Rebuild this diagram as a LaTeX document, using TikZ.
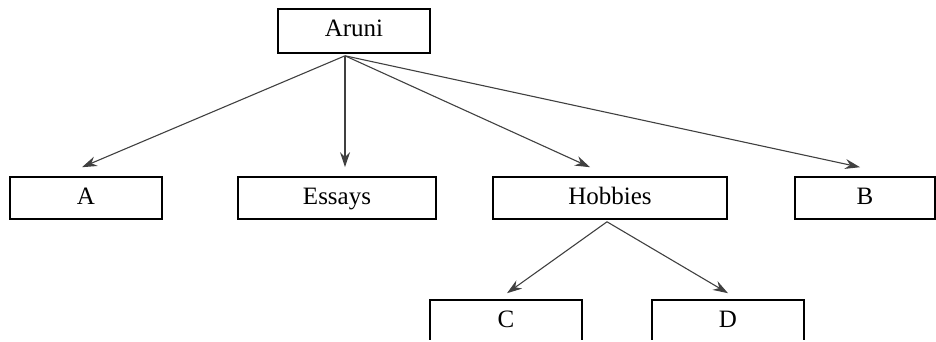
\documentclass[tikz,border=0pt]{standalone}
\usepackage{fontspec}
\setmainfont{Liberation Serif}
\usetikzlibrary{arrows.meta}

\begin{document}
\begin{tikzpicture}[x=1pt, y=-1pt,
    every node/.style={font=\fontsize{25}{25}\selectfont},
    topic/.style={draw, line width=1.6pt, minimum height=42pt, inner sep=0pt,
        text height=17pt, text depth=5pt},
    link/.style={line width=1.1pt, draw=black!75, -{Stealth[length=15pt, width=10pt]}}]

\newcommand{\rowone}{198}
\newcommand{\rowtwo}{321}
\newcommand{\gap}{9}

\useasboundingbox (0,0) rectangle (936,342);
% the lower boxes run off the bottom edge
\clip (0,0) rectangle (936,339);

\node [topic, minimum width=152pt, minimum height=44pt] (aruni) at (354,31) {Aruni};

\node [topic, minimum width=152pt] (a) at (86,\rowone) {A};
\node [topic, minimum width=198pt] (essays) at (337,\rowone) {Essays};
\node [topic, minimum width=234pt] (hobbies) at (610,\rowone) {Hobbies};
\node [topic, minimum width=140pt] (b) at (865,\rowone) {B};

\node [topic, minimum width=152pt] (c) at (506,\rowtwo) {C};
\node [topic, minimum width=152pt] (d) at (728,\rowtwo) {D};

% arrows leave a bit left of the centre
\coordinate (top) at ([xshift=-9pt, yshift=-2pt]aruni.south);
\coordinate (mid) at ([xshift=-3pt, yshift=-2pt]hobbies.south);

\draw [link] (top) -- ([xshift=-4pt, yshift=\gap pt]a.north);
\draw [link] (top) -- ([xshift=8pt, yshift=\gap pt]essays.north);
\draw [link] (top) -- ([xshift=-20pt, yshift=\gap pt]hobbies.north);
\draw [link] (top) -- ([xshift=-5pt, yshift=\gap pt]b.north);

\draw [link] (mid) -- ([xshift=1pt, yshift=6pt]c.north);
\draw [link] (mid) -- ([xshift=0pt, yshift=6pt]d.north);

\end{tikzpicture}
\end{document}
